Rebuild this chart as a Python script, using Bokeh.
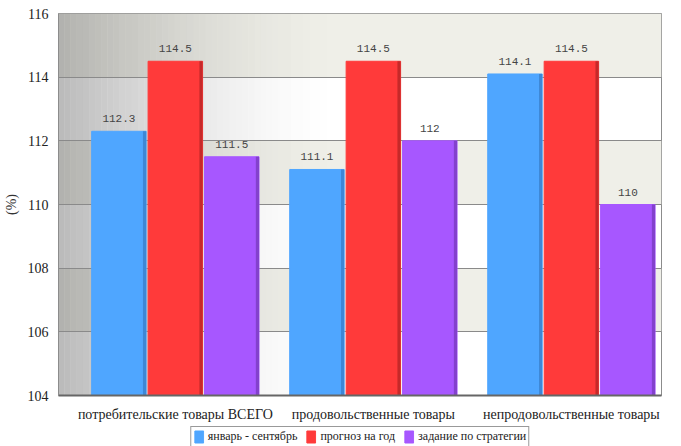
import numpy as np
from bokeh.plotting import figure
from bokeh.layouts import column
from bokeh.models import Range1d, Legend, LegendItem, FixedTicker, ColumnDataSource
from bokeh.core.properties import value
from bokeh.embed import file_html
from bokeh.resources import INLINE

categories = ["потребительские товары ВСЕГО", "продовольственные товары", "непродовольственные товары"]
series_names = ["январь - сентябрь", "прогноз на год", "задание по стратегии"]
jan_sep = [112.3, 111.1, 114.1]
forecast = [114.5, 114.5, 114.5]
strategy = [111.5, 112.0, 110.0]
value_labels = [["112.3", "111.1", "114.1"], ["114.5", "114.5", "114.5"], ["111.5", "112", "110"]]
y_ticks = [104, 106, 108, 110, 112, 114, 116]

colors = ["#4FA6FF", "#FF3A3A", "#A757FF"]
edge_colors = ["#3A7FCC", "#B82626", "#7A3CC0"]
SERIF = "Liberation Serif, Times New Roman, serif"

X0, X1 = -0.59, 2.455
p = figure(width=665, height=424, output_backend="svg", toolbar_location=None,
           x_range=Range1d(X0, X1), y_range=Range1d(104, 116),
           min_border_left=52, min_border_right=4, min_border_top=13, min_border_bottom=28)
p.background_fill_color = "#FFFFFF"
p.border_fill_color = "#FFFFFF"
p.outline_line_color = "#8C8C8C"
p.outline_line_width = 1

band_b = [104 + 2 * i for i in range(1, 6, 2)]
p.quad(left=X0, right=X1, bottom=band_b, top=[b + 2 for b in band_b],
       fill_color="#EFEFE8", line_color=None, level="image")
n = 45
xs = np.linspace(X0, 0.8, n + 1)
for i in range(n):
    t = i / n
    a = 0.47 * (1 - t) ** 1.6
    p.quad(left=xs[i], right=xs[i + 1], bottom=104, top=116, fill_color="#6E6E6E",
           fill_alpha=a, line_color=None, level="image")

x = np.arange(len(categories))
w = 0.275
step = 0.285
for k, (vals, c, ec) in enumerate(zip([jan_sep, forecast, strategy], colors, edge_colors)):
    xk = x + (k - 1) * step
    src = ColumnDataSource(dict(x=xk, top=vals, lab=value_labels[k]))
    p.vbar(x="x", top="top", bottom=104, width=w, source=src, fill_color=c, line_color=c)
    p.vbar(x=xk + w / 2 - 0.008, top=vals, bottom=104, width=0.016, fill_color=ec,
           line_color=None, fill_alpha=0.8)
    p.text(x="x", y="top", text="lab", source=src, text_align="center", text_baseline="bottom",
           y_offset=-9, text_font=value("Liberation Mono"), text_font_size="11px",
           text_color="#444444")

p.yaxis.ticker = FixedTicker(ticks=y_ticks)
p.yaxis.axis_label = "(%)"
p.yaxis.axis_label_text_font = SERIF
p.yaxis.axis_label_text_font_style = "normal"
p.yaxis.axis_label_text_font_size = "14px"
p.yaxis.axis_label_text_color = "#333333"
p.yaxis.axis_label_standoff = 6
p.yaxis.major_label_text_font = SERIF
p.yaxis.major_label_text_font_size = "14px"
p.yaxis.major_label_text_color = "#222222"
p.yaxis.major_tick_line_color = None
p.yaxis.minor_tick_line_color = None
p.yaxis.axis_line_color = "#8C8C8C"
p.yaxis.major_label_standoff = 4

p.xaxis.ticker = FixedTicker(ticks=list(x))
p.xaxis.major_label_overrides = {int(i): c for i, c in zip(x, categories)}
p.xaxis.major_label_text_font = SERIF
p.xaxis.major_label_text_font_size = "14px"
p.xaxis.major_label_text_color = "#222222"
p.xaxis.major_tick_line_color = None
p.xaxis.minor_tick_line_color = None
p.xaxis.axis_line_color = "#666666"
p.xaxis.axis_line_width = 2
p.xaxis.major_label_standoff = 5

p.xgrid.grid_line_color = None
p.ygrid.grid_line_color = "#8A8A8A"
p.ygrid.grid_line_width = 1

# legend figure
pl = figure(width=665, height=22, output_backend="svg", toolbar_location=None,
            x_range=Range1d(0, 1), y_range=Range1d(0, 1),
            min_border=0, x_axis_type=None, y_axis_type=None)
pl.outline_line_color = None
pl.xgrid.visible = False
pl.ygrid.visible = False
items = []
for c, name in zip(colors, series_names):
    r = pl.quad(left=[np.nan], right=[np.nan], bottom=[np.nan], top=[np.nan],
                fill_color=c, line_color=c)
    items.append(LegendItem(label=name, renderers=[r]))
legend = Legend(items=items, orientation="horizontal", location="top_center",
                label_text_font=SERIF, label_text_font_size="12px",
                label_text_color="#222222", border_line_color="#333333", border_line_width=1,
                glyph_width=11, glyph_height=15, label_standoff=4, spacing=8,
                padding=2, margin=2, background_fill_alpha=1, label_height=15)
pl.add_layout(legend, "center")

layout = column(p, pl, spacing=0)
open("out.html", "w").write(file_html(layout, INLINE))
